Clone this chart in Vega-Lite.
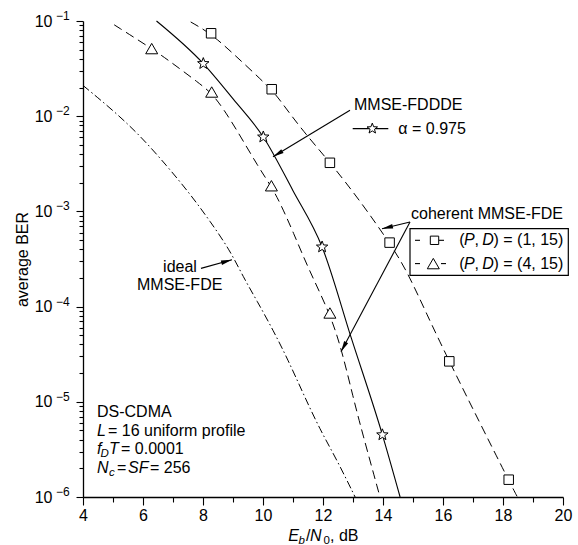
{
  "$schema": "https://vega.github.io/schema/vega-lite/v6.json",
  "width": 480,
  "height": 476,
  "autosize": {"type": "none"},
  "padding": {"left": 83, "top": 21, "right": 15, "bottom": 48},
  "background": "white",
  "config": {
    "view": {"stroke": null},
    "font": "Liberation Sans",
    "axis": {
      "labelFont": "Liberation Sans", "labelFontSize": 16, "labelColor": "black",
      "tickColor": "black", "domainColor": "black", "domainWidth": 1.3, "tickWidth": 1.1,
      "grid": false, "titleFont": "Liberation Sans", "titleFontSize": 16,
      "titleFontWeight": "normal", "titleColor": "black"
    },
    "text": {"font": "Liberation Sans", "fontSize": 16, "color": "black"}
  },
  "datasets": {
    "ideal": [
      {"x": 4.0, "y": 0.02104}, {"x": 5.01, "y": 0.01148}, {"x": 5.9, "y": 0.00627},
      {"x": 6.79, "y": 0.00303}, {"x": 7.57, "y": 0.001524}, {"x": 8.23, "y": 0.000794},
      {"x": 8.9, "y": 0.00039}, {"x": 9.34, "y": 0.000205}, {"x": 9.79, "y": 0.0001164},
      {"x": 10.34, "y": 5.64e-5}, {"x": 10.84, "y": 2.73e-5}, {"x": 11.34, "y": 1.22e-5},
      {"x": 11.9, "y": 5.09e-6}, {"x": 12.46, "y": 2.47e-6}, {"x": 13.07, "y": 1e-6}
    ],
    "tri": [
      {"x": 5.04, "y": 0.0912}, {"x": 6.29, "y": 0.0513}, {"x": 6.84, "y": 0.0389},
      {"x": 7.9, "y": 0.02188}, {"x": 8.29, "y": 0.01738}, {"x": 8.68, "y": 0.01202},
      {"x": 9.23, "y": 0.00631}, {"x": 9.84, "y": 0.00295}, {"x": 10.28, "y": 0.00182},
      {"x": 10.57, "y": 0.00123}, {"x": 11.01, "y": 0.000603}, {"x": 11.51, "y": 0.000251},
      {"x": 12.23, "y": 8.51e-5}, {"x": 12.62, "y": 3.55e-5}, {"x": 13.01, "y": 1.096e-5},
      {"x": 13.29, "y": 5.01e-6}, {"x": 13.9, "y": 1e-6}
    ],
    "tri_pts": [
      {"x": 6.29, "y": 0.0513}, {"x": 8.29, "y": 0.01795}, {"x": 10.28, "y": 0.00186}, {"x": 12.23, "y": 8.57e-5}
    ],
    "star": [
      {"x": 6.45, "y": 0.1}, {"x": 8.01, "y": 0.0357}, {"x": 9.01, "y": 0.0151},
      {"x": 10.01, "y": 0.00605}, {"x": 11.0, "y": 0.00165}, {"x": 11.97, "y": 0.000423},
      {"x": 12.95, "y": 4.6e-5}, {"x": 13.98, "y": 4.5e-6}, {"x": 14.57, "y": 1e-6}
    ],
    "star_pts": [
      {"x": 8.01, "y": 0.0357}, {"x": 10.01, "y": 0.00605}, {"x": 11.97, "y": 0.000423}, {"x": 13.98, "y": 4.5e-6}
    ],
    "sq": [
      {"x": 7.59, "y": 0.0977}, {"x": 8.27, "y": 0.0736}, {"x": 9.01, "y": 0.0454},
      {"x": 10.29, "y": 0.0191}, {"x": 10.57, "y": 0.01466}, {"x": 11.34, "y": 0.00692},
      {"x": 12.23, "y": 0.00329}, {"x": 13.23, "y": 0.0013}, {"x": 14.23, "y": 0.000462},
      {"x": 14.79, "y": 0.00024}, {"x": 15.46, "y": 8.32e-5}, {"x": 16.21, "y": 2.63e-5},
      {"x": 18.19, "y": 1.49e-6}, {"x": 18.48, "y": 1e-6}
    ],
    "sq_pts": [
      {"x": 8.27, "y": 0.0743}, {"x": 10.29, "y": 0.0192}, {"x": 12.23, "y": 0.00324},
      {"x": 14.22, "y": 0.00047}, {"x": 16.21, "y": 2.66e-5}, {"x": 18.19, "y": 1.52e-6}
    ],
    "arrows": [
      {"x": 7.933, "y": 0.000252, "x2": 8.967, "y2": 0.00031},
      {"x": 12.9, "y": 0.01153, "x2": 10.333, "y2": 0.00375},
      {"x": 14.9, "y": 0.000774, "x2": 13.967, "y2": 0.000656},
      {"x": 14.9, "y": 0.000774, "x2": 12.6, "y2": 3.35e-5}
    ],
    "box": [{"x": 14.9, "x2": 20.177, "y": 0.000659, "y2": 0.000213}],
    "leg_dash": [
      {"x": 15.067, "x2": 15.233, "y": 0.000497}, {"x": 15.867, "x2": 16.033, "y": 0.000497},
      {"x": 15.067, "x2": 15.233, "y": 0.000283}, {"x": 15.933, "x2": 16.1, "y": 0.000283}
    ],
    "ysup": [
      {"x": 3.1, "y": 0.1129, "t": "−1"},
      {"x": 3.1, "y": 0.01129, "t": "−2"},
      {"x": 3.1, "y": 0.001129, "t": "−3"},
      {"x": 3.1, "y": 0.0001129, "t": "−4"},
      {"x": 3.1, "y": 1.129e-5, "t": "−5"},
      {"x": 3.1, "y": 1.129e-6, "t": "−6"}
    ],
    "txt_normal": [
      {"x": 13.033, "y": 0.013, "t": "MMSE-FDDDE"},
      {"x": 14.51, "y": 0.00741, "t": "α = 0.975"},
      {"x": 14.933, "y": 0.000948, "t": "coherent MMSE-FDE"},
      {"x": 16.543, "y": 0.000497, "t": "("},
      {"x": 17.05, "y": 0.000497, "t": ","},
      {"x": 17.683, "y": 0.000497, "t": ") = (1, 15)"},
      {"x": 16.543, "y": 0.000283, "t": "("},
      {"x": 17.05, "y": 0.000283, "t": ","},
      {"x": 17.683, "y": 0.000283, "t": ") = (4, 15)"},
      {"x": 4.467, "y": 7.82e-6, "t": "DS-CDMA"},
      {"x": 4.833, "y": 4.93e-6, "t": "= 16 uniform profile"},
      {"x": 5.267, "y": 3.17e-6, "t": "= 0.0001"},
      {"x": 5.133, "y": 2.02e-6, "t": "="},
      {"x": 6.233, "y": 2.02e-6, "t": "= 256"},
      {"x": 11.433, "y": 3.86e-7, "t": "/"},
      {"x": 12.233, "y": 3.86e-7, "t": ", dB"}
    ],
    "txt_italic": [
      {"x": 16.7, "y": 0.000497, "t": "P"}, {"x": 17.31, "y": 0.000497, "t": "D"},
      {"x": 16.7, "y": 0.000283, "t": "P"}, {"x": 17.31, "y": 0.000283, "t": "D"},
      {"x": 4.467, "y": 4.93e-6, "t": "L"},
      {"x": 4.467, "y": 3.17e-6, "t": "f"}, {"x": 4.867, "y": 3.17e-6, "t": "T"},
      {"x": 4.467, "y": 2.02e-6, "t": "N"}, {"x": 5.5, "y": 2.02e-6, "t": "SF"},
      {"x": 10.843, "y": 3.86e-7, "t": "E"}, {"x": 11.567, "y": 3.86e-7, "t": "N"}
    ],
    "txt_sub_italic": [
      {"x": 4.583, "y": 2.81e-6, "t": "D"},
      {"x": 4.867, "y": 1.77e-6, "t": "c"},
      {"x": 11.183, "y": 3.43e-7, "t": "b"}
    ],
    "txt_sub": [
      {"x": 12.017, "y": 3.43e-7, "t": "0"}
    ],
    "txt_center": [
      {"x": 7.233, "y": 0.000261, "t": "ideal"},
      {"x": 7.223, "y": 0.0001675, "t": "MMSE-FDE"}
    ]
  },
  "encoding": {
    "x": {
      "field": "x", "type": "quantitative",
      "scale": {"domain": [4, 20], "nice": false, "zero": false},
      "axis": {
        "values": [4, 5, 6, 7, 8, 9, 10, 11, 12, 13, 14, 15, 16, 17, 18, 19, 20],
        "labelExpr": "datum.value % 2 == 0 ? datum.label : ''",
        "tickSize": {"condition": {"test": "datum.value % 2 == 0", "value": 8}, "value": 5},
        "labelPadding": 2, "labelOverlap": false, "labelFlush": false, "title": null
      }
    },
    "y": {
      "field": "y", "type": "quantitative",
      "scale": {"type": "log", "domain": [1e-6, 0.1], "nice": false},
      "axis": {
        "values": [1e-6, 2e-6, 3e-6, 4e-6, 5e-6, 6e-6, 7e-6, 8e-6, 9e-6,
                   1e-5, 2e-5, 3e-5, 4e-5, 5e-5, 6e-5, 7e-5, 8e-5, 9e-5,
                   0.0001, 0.0002, 0.0003, 0.0004, 0.0005, 0.0006, 0.0007, 0.0008, 0.0009,
                   0.001, 0.002, 0.003, 0.004, 0.005, 0.006, 0.007, 0.008, 0.009,
                   0.01, 0.02, 0.03, 0.04, 0.05, 0.06, 0.07, 0.08, 0.09, 0.1],
        "labelExpr": "abs(log(datum.value)/LN10 - round(log(datum.value)/LN10)) < 0.01 ? '10' : ''",
        "tickSize": {"condition": {"test": "abs(log(datum.value)/LN10 - round(log(datum.value)/LN10)) < 0.01", "value": 7}, "value": 4},
        "labelPadding": 24, "labelOverlap": false, "labelFlush": false,
        "title": "average BER", "titleX": -61, "titleY": 238, "titleAlign": "center",
        "titleBaseline": "middle", "titleAngle": -90
      }
    }
  },
  "layer": [
    {
      "data": {"name": "ideal"},
      "mark": {"type": "line", "color": "black", "strokeWidth": 1, "strokeDash": [8, 3, 1.5, 3], "interpolate": "basis"}
    },
    {
      "data": {"name": "tri"},
      "mark": {"type": "line", "color": "black", "strokeWidth": 1, "strokeDash": [9, 5], "interpolate": "basis"}
    },
    {
      "data": {"name": "star"},
      "mark": {"type": "line", "color": "black", "strokeWidth": 1.1, "interpolate": "monotone"}
    },
    {
      "data": {"name": "sq"},
      "mark": {"type": "line", "color": "black", "strokeWidth": 1, "strokeDash": [9, 5], "interpolate": "basis"}
    },
    {
      "data": {"name": "tri_pts"},
      "mark": {"type": "point", "shape": "triangle-up", "size": 144, "filled": true, "fill": "white", "stroke": "black", "strokeWidth": 1, "opacity": 1}
    },
    {
      "data": {"name": "star_pts"},
      "mark": {"type": "point", "shape": "M0,-1L0.247,-0.34L0.951,-0.309L0.399,0.13L0.588,0.809L0,0.42L-0.588,0.809L-0.399,0.13L-0.951,-0.309L-0.247,-0.34Z", "size": 144, "filled": true, "fill": "white", "stroke": "black", "strokeWidth": 1, "opacity": 1}
    },
    {
      "data": {"name": "sq_pts"},
      "mark": {"type": "point", "shape": "square", "size": 90, "filled": true, "fill": "white", "stroke": "black", "strokeWidth": 1, "opacity": 1}
    },
    {
      "data": {"name": "arrows"},
      "mark": {"type": "rule", "color": "black", "strokeWidth": 1.1},
      "encoding": {"x2": {"field": "x2"}, "y2": {"field": "y2"}}
    },
    {
      "data": {"values": [{"x": 8.967, "y": 0.00031}]},
      "mark": {"type": "point", "shape": "M0,0L-0.45,2.2L0.45,2.2Z", "size": 100, "filled": true, "color": "black", "opacity": 1, "angle": 74.7}
    },
    {
      "data": {"values": [{"x": 10.333, "y": 0.00375}]},
      "mark": {"type": "point", "shape": "M0,0L-0.45,2.2L0.45,2.2Z", "size": 100, "filled": true, "color": "black", "opacity": 1, "angle": 238.9}
    },
    {
      "data": {"values": [{"x": 13.967, "y": 0.000656}]},
      "mark": {"type": "point", "shape": "M0,0L-0.45,2.2L0.45,2.2Z", "size": 100, "filled": true, "color": "black", "opacity": 1, "angle": 256.35}
    },
    {
      "data": {"values": [{"x": 12.6, "y": 3.35e-5}]},
      "mark": {"type": "point", "shape": "M0,0L-0.45,2.2L0.45,2.2Z", "size": 100, "filled": true, "color": "black", "opacity": 1, "angle": 208.0}
    },
    {
      "data": {"name": "box"},
      "mark": {"type": "rect", "fill": "white", "stroke": "black", "strokeWidth": 1.2},
      "encoding": {"x2": {"field": "x2"}, "y2": {"field": "y2"}}
    },
    {
      "data": {"name": "leg_dash"},
      "mark": {"type": "rule", "color": "black", "strokeWidth": 1.1},
      "encoding": {"x2": {"field": "x2"}}
    },
    {
      "data": {"values": [{"x": 15.717, "y": 0.000497}]},
      "mark": {"type": "point", "shape": "square", "size": 70, "filled": true, "fill": "white", "stroke": "black", "strokeWidth": 1, "opacity": 1}
    },
    {
      "data": {"values": [{"x": 15.677, "y": 0.000283}]},
      "mark": {"type": "point", "shape": "triangle-up", "size": 144, "filled": true, "fill": "white", "stroke": "black", "strokeWidth": 1, "opacity": 1}
    },
    {
      "data": {"values": [{"x": 12.99, "x2": 14.177, "y": 0.00741}]},
      "mark": {"type": "rule", "color": "black", "strokeWidth": 1.1},
      "encoding": {"x2": {"field": "x2"}}
    },
    {
      "data": {"values": [{"x": 13.643, "y": 0.00741}]},
      "mark": {"type": "point", "shape": "M0,-1L0.247,-0.34L0.951,-0.309L0.399,0.13L0.588,0.809L0,0.42L-0.588,0.809L-0.399,0.13L-0.951,-0.309L-0.247,-0.34Z", "size": 121, "filled": true, "fill": "white", "stroke": "black", "strokeWidth": 1, "opacity": 1}
    },
    {
      "data": {"name": "ysup"},
      "mark": {"type": "text", "align": "left", "baseline": "middle", "fontSize": 12},
      "encoding": {"text": {"field": "t"}}
    },
    {
      "data": {"name": "txt_normal"},
      "mark": {"type": "text", "align": "left", "baseline": "middle", "fontSize": 16},
      "encoding": {"text": {"field": "t"}}
    },
    {
      "data": {"name": "txt_italic"},
      "mark": {"type": "text", "align": "left", "baseline": "middle", "fontSize": 16, "fontStyle": "italic"},
      "encoding": {"text": {"field": "t"}}
    },
    {
      "data": {"name": "txt_sub_italic"},
      "mark": {"type": "text", "align": "left", "baseline": "middle", "fontSize": 11.5, "fontStyle": "italic"},
      "encoding": {"text": {"field": "t"}}
    },
    {
      "data": {"name": "txt_sub"},
      "mark": {"type": "text", "align": "left", "baseline": "middle", "fontSize": 11.5},
      "encoding": {"text": {"field": "t"}}
    },
    {
      "data": {"name": "txt_center"},
      "mark": {"type": "text", "align": "center", "baseline": "middle", "fontSize": 16},
      "encoding": {"text": {"field": "t"}}
    }
  ]
}
